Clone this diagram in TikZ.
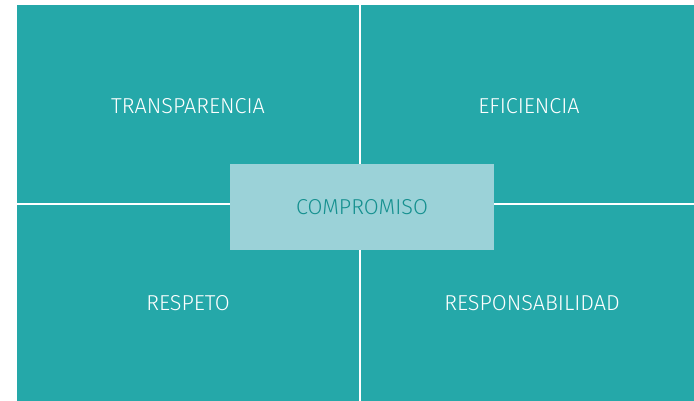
\documentclass[tikz,border=0pt]{standalone}
\usepackage{fontspec}
\setmainfont{Fira Sans Light}
\definecolor{teal1}{HTML}{25A8A9}
\definecolor{lightbox}{HTML}{9BD2D8}
\definecolor{boxtext}{HTML}{15908F}
\begin{document}
\begin{tikzpicture}[x=1pt,y=-1pt,
  qlabel/.style={text=white,font=\fontsize{21.6}{25}\selectfont},
  center/.style={fill=lightbox,draw=none,inner sep=0pt,minimum width=264pt,minimum height=86pt,text=boxtext,font=\fontsize{21.6}{25}\selectfont}]
\useasboundingbox (0,0) rectangle (694,401);
\fill[white] (0,0) rectangle (694,401);
\fill[teal1] (17,5) rectangle (359,203);
\fill[teal1] (361,5) rectangle (694,203);
\fill[teal1] (17,205) rectangle (359,401);
\fill[teal1] (361,205) rectangle (694,401);
\node[qlabel] (tl) at (188,106) {TRANSPARENCIA};
\node[qlabel] (tr) at (529,106) {EFICIENCIA};
\node[qlabel] (bl) at (188,303) {RESPETO};
\node[qlabel] (br) at (532,303) {RESPONSABILIDAD};
\node[center] (c) at (362,207) {COMPROMISO};
\end{tikzpicture}
\end{document}
